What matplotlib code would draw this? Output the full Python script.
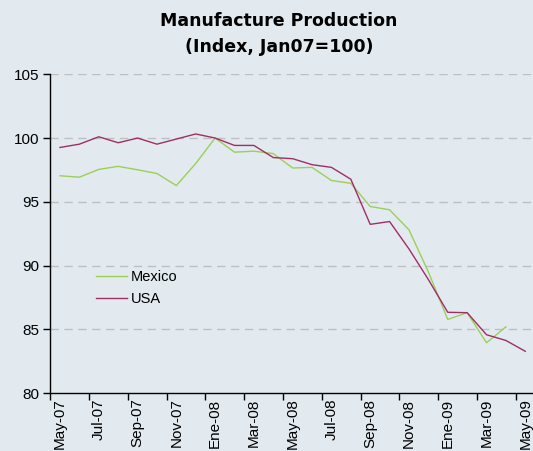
import matplotlib
matplotlib.use("Agg")
import matplotlib.pyplot as plt
import numpy as np

plt.rcParams['font.family'] = ['Liberation Sans', 'DejaVu Sans']

# monthly index values, May-07 .. May-09
months = ["May-07", "Jun-07", "Jul-07", "Aug-07", "Sep-07", "Oct-07", "Nov-07", "Dec-07",
          "Ene-08", "Feb-08", "Mar-08", "Apr-08", "May-08", "Jun-08", "Jul-08", "Aug-08",
          "Sep-08", "Oct-08", "Nov-08", "Dec-08", "Ene-09", "Feb-09", "Mar-09", "Apr-09",
          "May-09"]
usa = [99.26, 99.52, 100.1, 99.63, 100.0, 99.52, 99.92, 100.32, 100.0, 99.42, 99.42, 98.47,
       98.38, 97.91, 97.70, 96.77, 93.23, 93.45, 91.3, 88.9, 86.33, 86.3, 84.57, 84.12, 83.27]
mexico = [97.04, 96.93, 97.54, 97.78, 97.51, 97.22, 96.27, 98.0, 100.0, 98.89, 98.97, 98.78,
          97.65, 97.70, 96.67, 96.45, 94.63, 94.37, 92.8, 89.5, 85.77, 86.3, 83.94, 85.19]
yticks = [80, 85, 90, 95, 100, 105]

bg = "#E2EAF0"
green = "#9BCF5A"
plum = "#9E2F65"

fig = plt.figure(figsize=(5.33, 4.51), dpi=100, facecolor=bg)
ax = fig.add_axes([50.3 / 533, 58 / 451, (535 - 50.3) / 533, (376.7 - 58) / 451])
ax.set_facecolor(bg)

x_usa = np.arange(len(usa))
x_mex = np.arange(len(mexico))
ax.plot(x_mex, mexico, color=green, lw=1.0, label="Mexico")
ax.plot(x_usa, usa, color=plum, lw=1.0, label="USA")

ax.set_xlim(-0.5, len(months) - 0.5)
ax.set_ylim(80, 105)
ax.set_yticks(yticks)
ax.set_yticklabels([str(v) for v in yticks], fontsize=11)
for v in yticks[1:]:
    ax.axhline(v, color="#BFBFBF", lw=1.0, dashes=(6, 4), zorder=0)

# labels every other month, tick marks at category boundaries
ax.set_xticks(np.arange(0, len(months), 2))
ax.set_xticklabels(months[::2], rotation=90, fontsize=11)
ax.tick_params(axis="x", which="major", length=0, pad=4)
ax.set_xticks(np.arange(-0.5, len(months), 2), minor=True)
ax.tick_params(axis="x", which="minor", length=5, width=1, color="black")
ax.tick_params(axis="y", length=5, width=1, pad=3)

for s in ["top", "right"]:
    ax.spines[s].set_visible(False)
for s in ["left", "bottom"]:
    ax.spines[s].set_color("black")
    ax.spines[s].set_linewidth(1.0)

ax.legend(loc="upper left", bbox_to_anchor=(0.068, 0.428), frameon=False, fontsize=10.5,
          handlelength=2.1, handletextpad=0.25, labelspacing=0.55)

fig.text(279 / 533, 1 - 21 / 451, "Manufacture Production", ha="center", va="center",
         fontsize=12.5, fontweight="bold", family="DejaVu Sans")
fig.text(279 / 533, 1 - 47 / 451, "(Index, Jan07=100)", ha="center", va="center",
         fontsize=12.5, fontweight="bold", family="DejaVu Sans")

fig.savefig("out.png", dpi=100, facecolor=bg)
